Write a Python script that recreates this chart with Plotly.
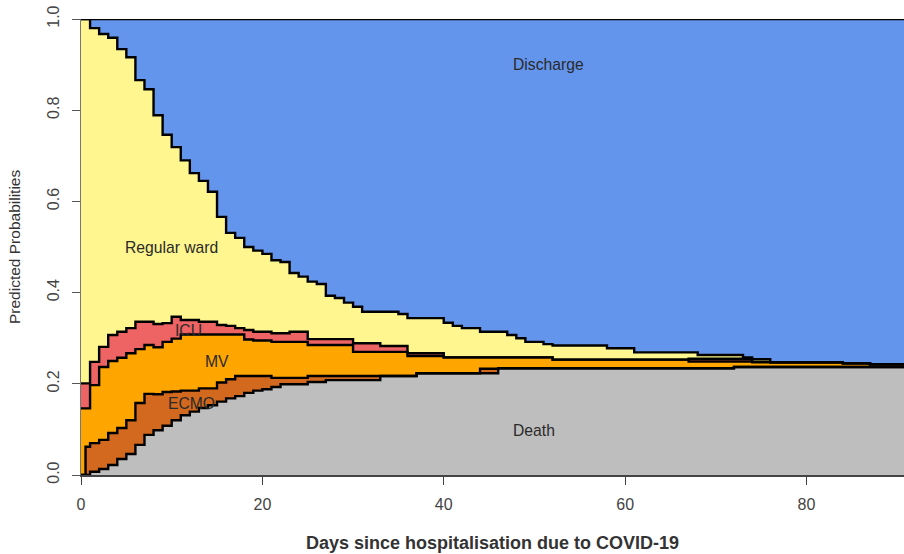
import plotly.graph_objects as go

# time grid (days since hospitalisation); state held from each time to the next
days = [0, 0.5] + list(range(1, 92))

# cumulative predicted probabilities (upper edge of each state band)
# values: day 0, day 0.5, then days 1..91
cum_death = [0, 0,
    0.007, 0.013, 0.022, 0.035, 0.046, 0.066, 0.088, 0.098, 0.108, 0.120,
    0.131, 0.139, 0.147, 0.153, 0.161, 0.168, 0.173, 0.180, 0.185, 0.188,
    0.193, 0.199, 0.199, 0.199, 0.204, 0.204, 0.208, 0.208, 0.208, 0.208,
    0.208, 0.208, 0.217, 0.217, 0.217, 0.217, 0.223, 0.223, 0.223, 0.223,
    0.223, 0.223, 0.223, 0.223, 0.223, 0.234, 0.234, 0.234, 0.234, 0.234,
    0.234, 0.234, 0.234, 0.234, 0.234, 0.234, 0.234, 0.234, 0.234, 0.234,
    0.234, 0.234, 0.234, 0.234, 0.234, 0.234, 0.234, 0.234, 0.234, 0.234,
    0.234, 0.237, 0.237, 0.237, 0.237, 0.237, 0.237, 0.237, 0.237, 0.237,
    0.237, 0.237, 0.237, 0.237, 0.237, 0.237, 0.237, 0.237, 0.237, 0.237, 0.237]

cum_ecmo = [0, 0.062,
    0.070, 0.077, 0.092, 0.103, 0.120, 0.158, 0.178, 0.177, 0.182, 0.183,
    0.185, 0.185, 0.190, 0.190, 0.203, 0.210, 0.217, 0.217, 0.217, 0.217,
    0.213, 0.213, 0.213, 0.213, 0.217, 0.217, 0.217, 0.217, 0.217, 0.217,
    0.217, 0.217, 0.217, 0.217, 0.217, 0.217, 0.223, 0.223, 0.223, 0.223,
    0.223, 0.223, 0.223, 0.233, 0.233, 0.234, 0.234, 0.234, 0.234, 0.234,
    0.234, 0.234, 0.234, 0.234, 0.234, 0.234, 0.234, 0.234, 0.234, 0.234,
    0.234, 0.234, 0.234, 0.234, 0.234, 0.234, 0.234, 0.234, 0.234, 0.234,
    0.234, 0.237, 0.237, 0.237, 0.237, 0.237, 0.237, 0.237, 0.237, 0.237,
    0.237, 0.237, 0.237, 0.237, 0.237, 0.237, 0.237, 0.237, 0.237, 0.237, 0.237]

cum_mv = [0.146, 0.146,
    0.197, 0.237, 0.250, 0.257, 0.267, 0.276, 0.285, 0.280, 0.292, 0.299,
    0.308, 0.308, 0.308, 0.308, 0.308, 0.308, 0.308, 0.297, 0.295, 0.295,
    0.292, 0.292, 0.292, 0.292, 0.285, 0.285, 0.285, 0.285, 0.285, 0.270,
    0.270, 0.270, 0.270, 0.270, 0.270, 0.261, 0.261, 0.261, 0.261, 0.258,
    0.258, 0.258, 0.258, 0.258, 0.258, 0.258, 0.258, 0.258, 0.258, 0.258,
    0.258, 0.253, 0.253, 0.253, 0.253, 0.253, 0.253, 0.253, 0.253, 0.253,
    0.253, 0.253, 0.253, 0.253, 0.253, 0.253, 0.249, 0.249, 0.249, 0.249,
    0.249, 0.249, 0.249, 0.247, 0.247, 0.247, 0.247, 0.247, 0.247, 0.247,
    0.247, 0.247, 0.247, 0.245, 0.245, 0.245, 0.243, 0.243, 0.243, 0.243, 0.243]

cum_icu = [0.201, 0.201,
    0.248, 0.281, 0.307, 0.314, 0.322, 0.336, 0.336, 0.331, 0.333, 0.347,
    0.340, 0.340, 0.336, 0.336, 0.329, 0.327, 0.322, 0.318, 0.314, 0.314,
    0.311, 0.311, 0.314, 0.314, 0.298, 0.298, 0.298, 0.298, 0.298, 0.289,
    0.289, 0.289, 0.283, 0.283, 0.283, 0.267, 0.267, 0.267, 0.267, 0.258,
    0.258, 0.258, 0.258, 0.258, 0.258, 0.258, 0.258, 0.258, 0.258, 0.258,
    0.258, 0.253, 0.253, 0.253, 0.253, 0.253, 0.253, 0.253, 0.253, 0.253,
    0.253, 0.253, 0.253, 0.253, 0.253, 0.253, 0.255, 0.255, 0.255, 0.255,
    0.255, 0.255, 0.255, 0.248, 0.248, 0.247, 0.247, 0.247, 0.247, 0.247,
    0.247, 0.247, 0.247, 0.245, 0.245, 0.245, 0.243, 0.243, 0.243, 0.243, 0.243]

cum_ward = [1.0, 1.0,
    0.980, 0.967, 0.959, 0.934, 0.916, 0.866, 0.846, 0.789, 0.746, 0.719,
    0.690, 0.662, 0.645, 0.621, 0.566, 0.531, 0.520, 0.500, 0.492, 0.485,
    0.471, 0.467, 0.443, 0.435, 0.424, 0.419, 0.393, 0.388, 0.378, 0.369,
    0.358, 0.358, 0.358, 0.358, 0.353, 0.344, 0.344, 0.344, 0.344, 0.334,
    0.327, 0.322, 0.322, 0.314, 0.314, 0.314, 0.307, 0.300, 0.292, 0.292,
    0.287, 0.284, 0.284, 0.284, 0.284, 0.284, 0.284, 0.278, 0.278, 0.278,
    0.269, 0.269, 0.269, 0.269, 0.269, 0.269, 0.269, 0.263, 0.263, 0.263,
    0.263, 0.263, 0.258, 0.254, 0.254, 0.247, 0.247, 0.247, 0.247, 0.247,
    0.247, 0.247, 0.247, 0.245, 0.245, 0.245, 0.243, 0.243, 0.243, 0.243, 0.243]

cum_discharge = [1.0] * len(days)

states = ["Death", "ECMO", "MV", "ICU", "Regular ward", "Discharge"]
colors = ["#BEBEBE", "#D2691E", "#FFA500", "#EE6363", "#FFF68F", "#6495ED"]
bounds = [cum_death, cum_ecmo, cum_mv, cum_icu, cum_ward, cum_discharge]

# label positions (days, probability)
label_x = [50.0, 12.2, 15.0, 11.8, 10.0, 51.5]
label_y = [0.098, 0.157, 0.249, 0.317, 0.499, 0.901]

fig = go.Figure()

# filled bands
for i, (name, col, ub) in enumerate(zip(states, colors, bounds)):
    fig.add_trace(go.Scatter(
        x=days, y=ub, mode="lines", name=name,
        line=dict(width=0, shape="hv", color=col),
        fill="tozeroy" if i == 0 else "tonexty", fillcolor=col,
        hoverinfo="skip", showlegend=False))

# black boundary lines on top
for ub in bounds:
    fig.add_trace(go.Scatter(
        x=days, y=ub, mode="lines",
        line=dict(width=2.4, shape="hv", color="black"),
        hoverinfo="skip", showlegend=False))

for name, lx, ly in zip(states, label_x, label_y):
    fig.add_annotation(x=lx, y=ly, text=name, showarrow=False,
                       font=dict(size=15.7, color="#2a2a2a"))

fig.add_annotation(xref="paper", yref="paper", x=0.5, y=-0.149,
                   text="<b>Days since hospitalisation due to COVID-19</b>",
                   showarrow=False, yanchor="middle",
                   font=dict(size=18, color="#333333"))
fig.add_annotation(xref="paper", yref="paper", x=-0.0814, y=0.5,
                   text="Predicted Probabilities", textangle=-90,
                   showarrow=False, xanchor="center", yanchor="middle",
                   font=dict(size=15.5, color="#333333"))

fig.update_layout(
    width=904, height=554,
    margin=dict(l=81, r=0, t=19, b=79),
    plot_bgcolor="white", paper_bgcolor="white",
    showlegend=False, hovermode=False,
    font=dict(family="Liberation Sans, Arial, sans-serif", color="#333333"),
)
fig.update_xaxes(range=[0, 90.75], tickvals=[0, 20, 40, 60, 80],
                 ticks="outside", ticklen=8, tickcolor="#444444",
                 showline=True, linecolor="#444444", linewidth=1.5,
                 showgrid=False, zeroline=False, ticklabelstandoff=6,
                 tickfont=dict(size=16, color="#444444"))
fig.update_yaxes(range=[0, 1], tickvals=[0, 0.2, 0.4, 0.6, 0.8, 1.0],
                 ticktext=["0.0", "0.2", "0.4", "0.6", "0.8", "1.0"],
                 tickangle=-90,
                 ticks="outside", ticklen=8, tickcolor="#555555",
                 showline=True, linecolor="#777777", linewidth=1,
                 showgrid=False, zeroline=False, ticklabelstandoff=7,
                 tickfont=dict(size=16, color="#444444"))

fig.write_html("out.html", config={"displayModeBar": False, "staticPlot": True},
               post_script="document.body.style.margin='0';document.body.style.overflow='hidden';")
